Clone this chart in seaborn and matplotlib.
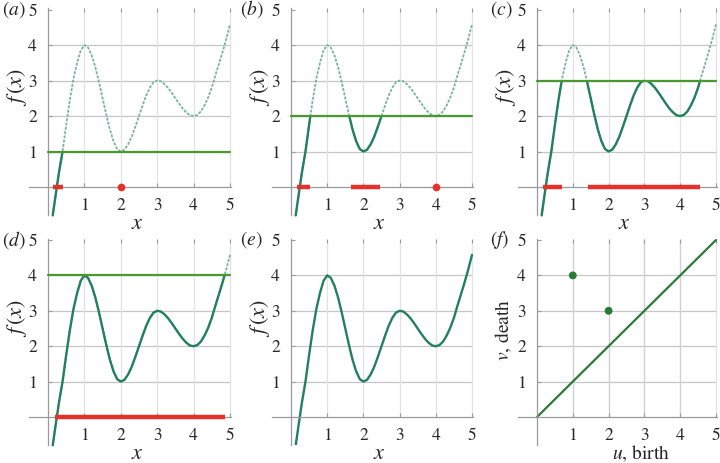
import numpy as np
import matplotlib
matplotlib.use('Agg')
import matplotlib.pyplot as plt
from matplotlib.patches import Rectangle
import seaborn as sns

# curve f(x)
x_pts = [0.13, 0.2, 0.3, 0.4, 0.5, 0.6, 0.7, 0.8, 0.9, 1.0,
         1.1, 1.2, 1.3, 1.4, 1.5, 1.6, 1.7, 1.8, 1.9, 2.0,
         2.1, 2.2, 2.3, 2.4, 2.5, 2.6, 2.7, 2.8, 2.9, 3.0,
         3.1, 3.2, 3.3, 3.4, 3.5, 3.6, 3.7, 3.8, 3.9, 4.0,
         4.1, 4.2, 4.3, 4.4, 4.5, 4.6, 4.7, 4.8, 4.9, 5.0]
f_pts = [-0.8, -0.3, 0.4, 1.0, 1.75, 2.45, 3.05, 3.5, 3.85, 4.0,
         3.93, 3.71, 3.38, 2.96, 2.5, 2.04, 1.62, 1.29, 1.07, 1.0,
         1.05, 1.2, 1.42, 1.7, 2.0, 2.3, 2.58, 2.8, 2.95, 3.0,
         2.98, 2.9, 2.79, 2.65, 2.5, 2.35, 2.21, 2.1, 2.02, 2.0,
         2.03, 2.13, 2.3, 2.52, 2.8, 3.15, 3.48, 3.82, 4.18, 4.58]

tags = ['a', 'b', 'c', 'd', 'e', 'f']
levels = [1, 2, 3, 4, None]
# sublevel sets {x : f(x) <= c} drawn on the x axis
red_bars = [[(0.15, 0.40)],
            [(0.17, 0.53), (1.66, 2.46)],
            [(0.16, 0.69), (1.42, 4.55)],
            [(0.19, 4.85)],
            []]
red_dots = [[2.0], [4.0], [], [], []]

# persistence diagram
birth = [1, 2]
death = [4, 3]
diag = [0, 5]

ticks = [1, 2, 3, 4, 5]

sns.set_style('white')
plt.rcParams['font.family'] = ['STIXGeneral', 'Liberation Serif', 'DejaVu Serif']
plt.rcParams['mathtext.fontset'] = 'stix'

W, H = 720, 463
fig = plt.figure(figsize=(W / 100, H / 100), dpi=100)

XMIN, XMAX, YMIN, YMAX = -0.53, 5.03, -0.8, 5.03
# pixel position of the origin and pixel size of one unit, per panel
col_x0 = [48, 291, 537]
col_u = [36.4, 36.2, 35.8]
row_y0 = [187, 417]
row_u = [35.5, 35.4]
tag_x = [2, 240, 490]

grey = '#9a9a9a'
grid_c = '#c6c6c6'
vgrid_c = '#e2e2e2'
dark = '#23805e'
pale = '#79b3a2'
lev_c = '#4a9830'
red = '#e8302a'


def make_axes(r, c):
    x0, ux = col_x0[c], col_u[c]
    y0, uy = row_y0[r], row_u[r]
    left = x0 + XMIN * ux
    right = x0 + XMAX * ux
    top = y0 - YMAX * uy
    bottom = y0 - YMIN * uy
    ax = fig.add_axes([left / W, 1 - bottom / H, (right - left) / W, (bottom - top) / H])
    ax.set_xlim(XMIN, XMAX)
    ax.set_ylim(YMIN, YMAX)
    ax.patch.set_alpha(0)
    for s in ['top', 'right']:
        ax.spines[s].set_visible(False)
    for s in ['left', 'bottom']:
        ax.spines[s].set_position(('data', 0))
        ax.spines[s].set_color(grey)
        ax.spines[s].set_linewidth(0.9)
    ax.set_xticks(ticks)
    ax.set_yticks(ticks)
    ax.set_xticklabels([str(t) for t in ticks])
    ax.set_yticklabels([str(t) for t in ticks])
    ax.tick_params(axis='x', direction='in', length=3, width=0.8, color=grey,
                   top=True, bottom=True, pad=8, labelsize=12.5)
    ax.tick_params(axis='y', direction='in', length=3, width=0.8, color=grey,
                   left=True, pad=8, labelsize=12.5)
    ax.hlines(ticks[:-1], 0, 5, colors=grid_c, lw=0.9, zorder=0)
    ax.vlines(ticks, 0, 5, colors=vgrid_c, lw=0.9, zorder=0, clip_on=False)
    fig.text(tag_x[c] / W, 1 - (y0 - 5 * uy) / H, '(' + r'$' + tags[3 * r + c] + r'$' + ')',
             fontsize=14, ha='left', va='center')
    return ax, x0, ux, y0, uy


def ax_x(xd):
    return (xd - XMIN) / (XMAX - XMIN)


def ax_y(yd):
    return (yd - YMIN) / (YMAX - YMIN)


for i in range(5):
    r, c = divmod(i, 3)
    ax, x0, ux, y0, uy = make_axes(r, c)
    lev = levels[i]

    if lev is None:
        sns.lineplot(x=x_pts, y=f_pts, ax=ax, color=dark, lw=1.7, sort=False, estimator=None)
    else:
        sns.lineplot(x=x_pts, y=f_pts, ax=ax, color=pale, lw=1.3, sort=False,
                     estimator=None, linestyle=(0, (1.6, 0.8)))
        sns.lineplot(x=x_pts, y=f_pts, ax=ax, color=dark, lw=1.7, sort=False, estimator=None)
        clip = Rectangle((XMIN, YMIN - 1), XMAX - XMIN, lev - YMIN + 1, transform=ax.transData)
        ax.lines[-1].set_clip_path(clip)
        ax.plot([0, 5], [lev, lev], color=lev_c, lw=1.6, zorder=3)

    for a, b in red_bars[i]:
        ax.plot([a, b], [0, 0], color=red, lw=3.2, solid_capstyle='butt', zorder=4)
    if red_dots[i]:
        ax.plot(red_dots[i], [0] * len(red_dots[i]), 'o', color=red, ms=4.5, zorder=4)

    ax.set_xlabel(r'$x$', fontsize=16)
    ax.xaxis.set_label_coords(ax_x(2.45), ax_y(-37 / uy))
    ax.xaxis.label.set_va('center')
    ax.set_ylabel(r'$f\,(x)$', fontsize=16)
    ax.yaxis.set_label_coords(ax_x(-31 / ux), ax_y(2.8))
    ax.yaxis.label.set_va('center')

# (f) persistence diagram
ax, x0, ux, y0, uy = make_axes(1, 2)
ax.vlines(ticks[:-1], 0, 5, colors='#d2d2d2', lw=0.9, zorder=0)
sns.lineplot(x=diag, y=diag, ax=ax, color='#2a7a38', lw=1.6, sort=False, estimator=None)
sns.scatterplot(x=birth, y=death, ax=ax, color='#2a7a38', s=32, edgecolor='none', zorder=5)
ax.set_xlabel(r'$u$, birth', fontsize=14)
ax.xaxis.set_label_coords(ax_x(2.9), ax_y(-37 / uy))
ax.xaxis.label.set_va('center')
ax.set_ylabel(r'$v$, death', fontsize=14)
ax.yaxis.set_label_coords(ax_x(-33 / ux), ax_y(2.45))
ax.yaxis.label.set_va('center')

fig.savefig('out.png', dpi=100)
